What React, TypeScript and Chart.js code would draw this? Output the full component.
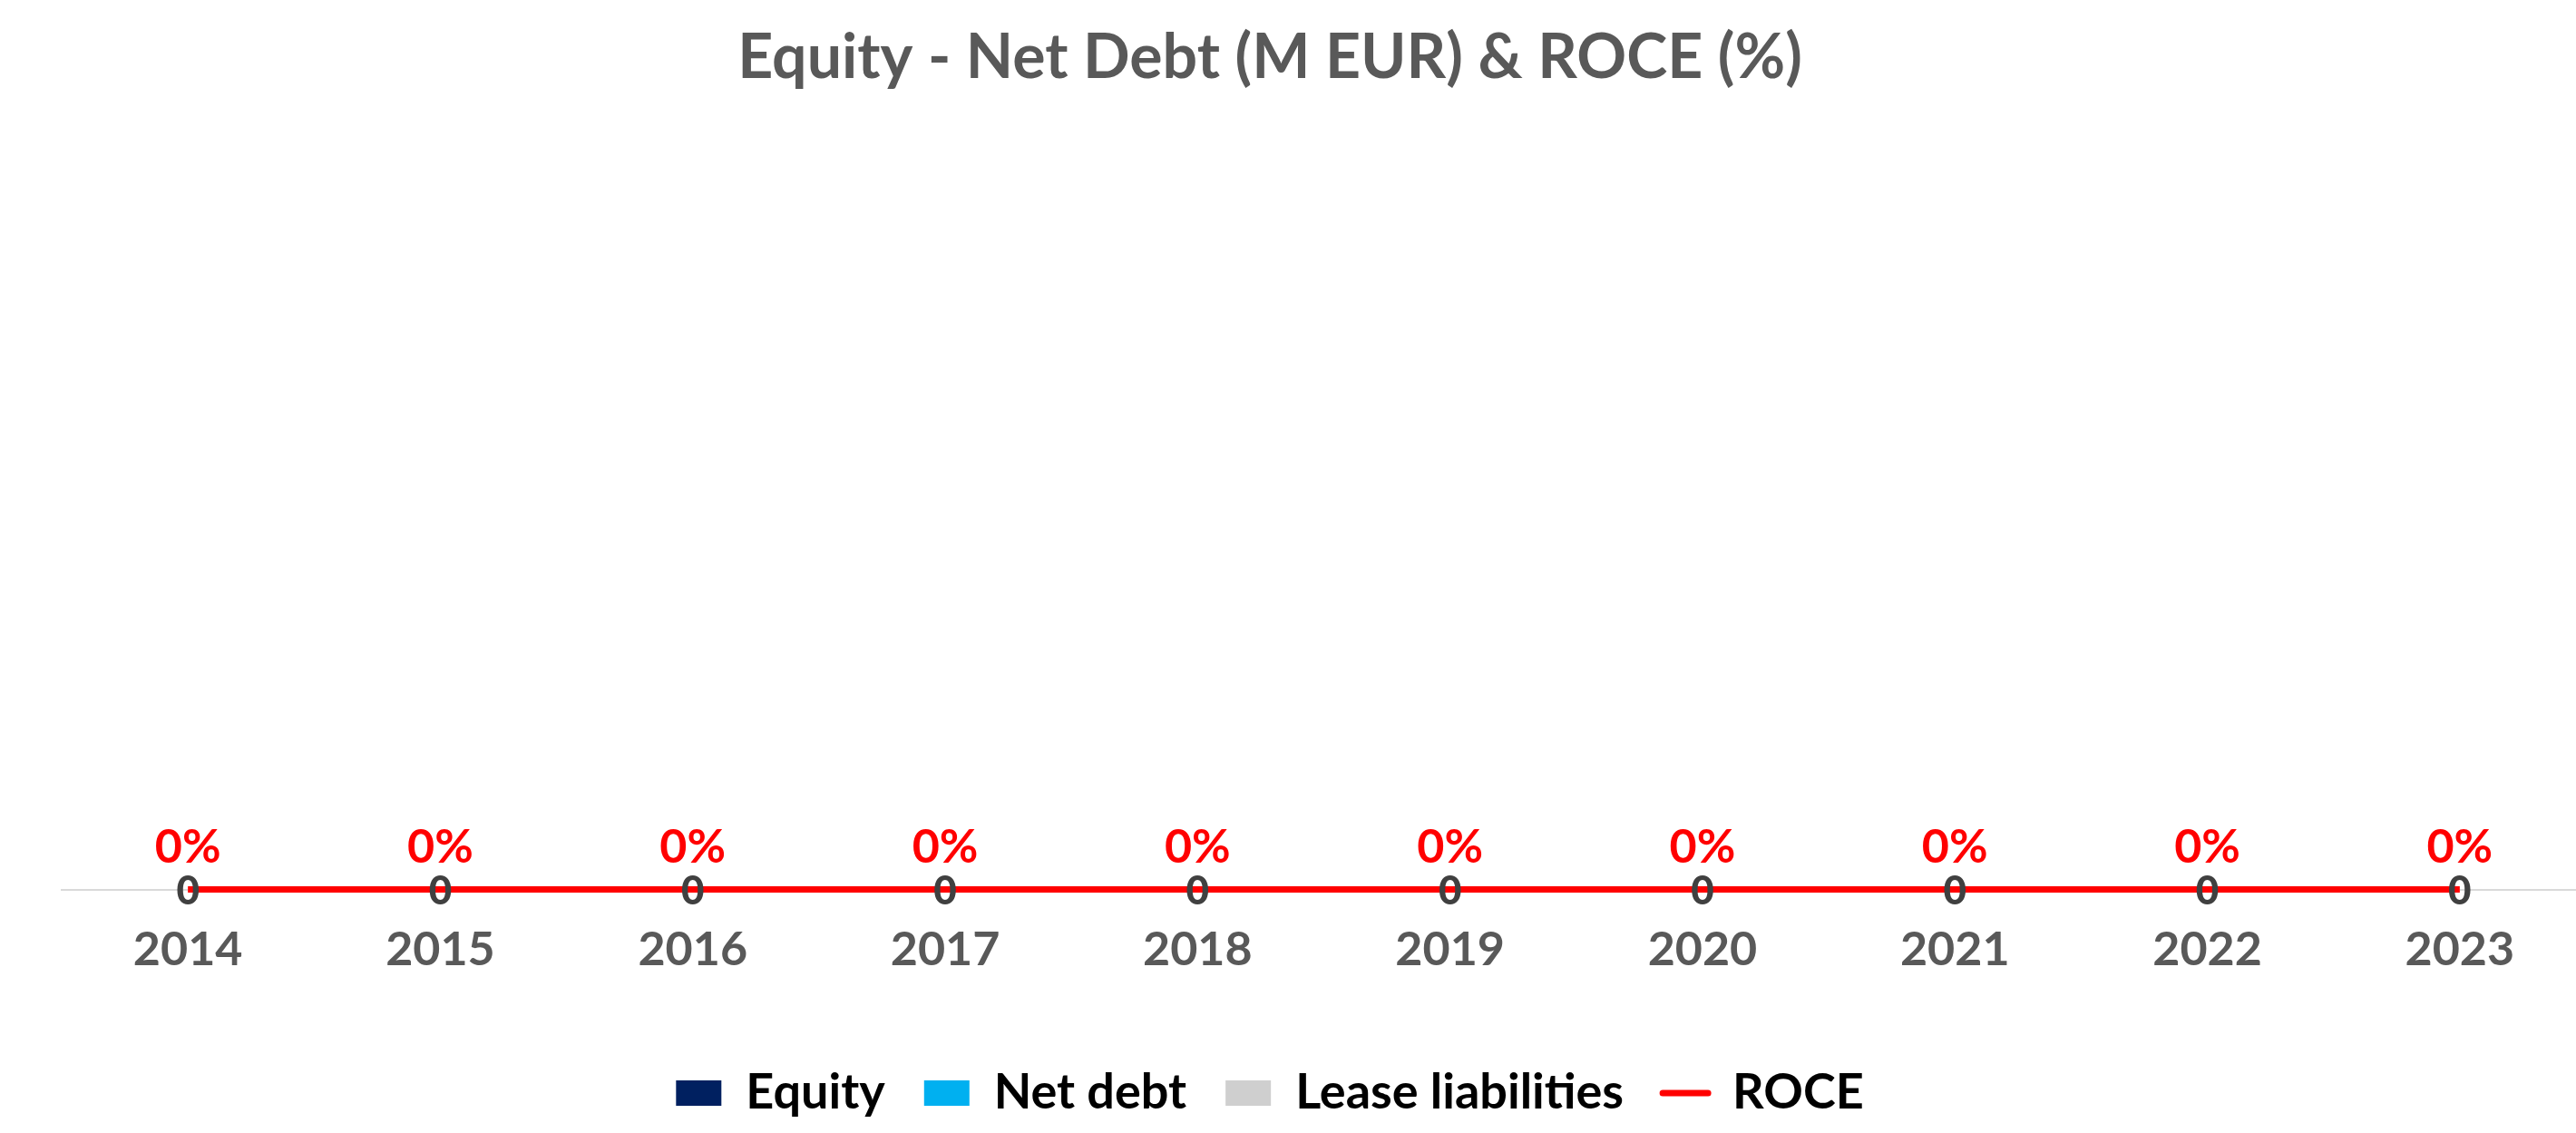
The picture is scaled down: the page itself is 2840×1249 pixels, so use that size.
import React, { useEffect, useRef } from 'react';
import { Chart, registerables } from 'chart.js';

Chart.register(...registerables);

const years = ['2014', '2015', '2016', '2017', '2018', '2019', '2020', '2021', '2022', '2023'];
const equity = [0, 0, 0, 0, 0, 0, 0, 0, 0, 0];
const netDebt = [0, 0, 0, 0, 0, 0, 0, 0, 0, 0];
const leaseLiabilities = [0, 0, 0, 0, 0, 0, 0, 0, 0, 0];
const roce = [0, 0, 0, 0, 0, 0, 0, 0, 0, 0];

const TEXT = '#595959';
const FONT = 'Lato, "Open Sans", sans-serif';

export default function App() {
  const ref = useRef<HTMLCanvasElement>(null);

  useEffect(() => {
    document.body.style.margin = '0';
    document.body.style.overflow = 'hidden';
    if (!ref.current) return;

    const labelPlugin = {
      id: 'valueLabels',
      afterDatasetsDraw(chart: any) {
        const ctx = chart.ctx;
        ctx.save();
        ctx.textAlign = 'center';
        ctx.textBaseline = 'middle';
        const barMeta = chart.getDatasetMeta(2);
        ctx.font = `900 44px ${FONT}`;
        ctx.fillStyle = '#404040';
        barMeta.data.forEach((el: any, i: number) => {
          const total = equity[i] + netDebt[i] + leaseLiabilities[i];
          ctx.fillText(String(total), el.x, el.y + 2);
        });
        const lineMeta = chart.getDatasetMeta(3);
        ctx.font = `bold 52px ${FONT}`;
        ctx.fillStyle = '#ff0000';
        lineMeta.data.forEach((el: any, i: number) => {
          ctx.fillText(`${roce[i]}%`, el.x, el.y - 46);
        });
        ctx.restore();
      },
    };

    const chart = new Chart(ref.current, {
      type: 'bar',
      data: {
        labels: years,
        datasets: [
          { type: 'bar', label: 'Equity', data: equity, backgroundColor: '#002060', stack: 's', order: 1, yAxisID: 'y' },
          { type: 'bar', label: 'Net debt', data: netDebt, backgroundColor: '#00b0f0', stack: 's', order: 1, yAxisID: 'y' },
          { type: 'bar', label: 'Lease liabilities', data: leaseLiabilities, backgroundColor: '#cfcfcf', stack: 's', order: 1, yAxisID: 'y' },
          {
            type: 'line', label: 'ROCE', data: roce, borderColor: '#ff0000', backgroundColor: '#ff0000',
            borderWidth: 7, pointRadius: 0, order: 0, yAxisID: 'y1', clip: false as any,
          },
        ],
      } as any,
      options: {
        animation: false,
        responsive: true,
        maintainAspectRatio: false,
        layout: { padding: { bottom: 7 } },
        plugins: {
          title: {
            display: true,
            text: 'Equity - Net Debt (M EUR) & ROCE (%)',
            color: TEXT,
            font: { family: FONT, size: 68, weight: 'bold' },
            padding: { top: 23, bottom: 20 },
          },
          legend: {
            position: 'bottom',
            labels: {
              color: TEXT,
              font: { family: FONT, size: 54, weight: 'bold' },
              usePointStyle: true,
              pointStyleWidth: 50,
              boxHeight: 28,
              padding: 43,
              generateLabels: (chart: any) =>
                chart.data.datasets.map((ds: any, i: number) => ({
                  text: ds.label,
                  fillStyle: ds.backgroundColor,
                  strokeStyle: ds.type === 'line' ? ds.borderColor : ds.backgroundColor,
                  lineWidth: ds.type === 'line' ? 7 : 0,
                  lineCap: 'round',
                  pointStyle: ds.type === 'line' ? 'line' : 'rect',
                  hidden: false,
                  datasetIndex: i,
                })),
            },
          },
          tooltip: { enabled: false },
        },
        scales: {
          x: {
            stacked: true,
            grid: { display: false, drawTicks: false },
            border: { display: true, color: '#d9d9d9', width: 2 },
            ticks: { color: TEXT, font: { family: FONT, size: 52, weight: 'bold' }, padding: 35 },
            afterFit: (s: any) => { s.height += 22; },
          },
          y: {
            stacked: true,
            position: 'left',
            min: 0,
            max: 100,
            ticks: { display: false },
            grid: { display: false },
            border: { display: false },
            afterFit: (s: any) => { s.width = 119; },
          },
          y1: { display: false, min: 0, max: 100, position: 'right' },
        },
      } as any,
      plugins: [labelPlugin],
    });

    return () => chart.destroy();
  }, []);

  return (
    <div style={{ position: 'relative', width: 2840, height: 1249, overflow: 'hidden' }}>
      <div style={{ position: 'absolute', left: -51, top: 0, width: 2902, height: 1249 }}>
        <canvas ref={ref} />
      </div>
    </div>
  );
}
